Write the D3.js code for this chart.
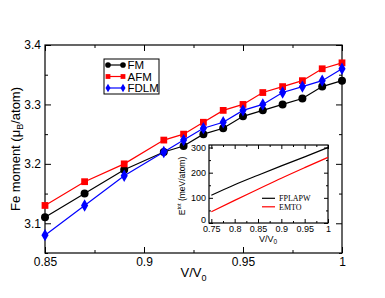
<!DOCTYPE html>
<html>
<head>
<meta charset="utf-8">
<script src="https://cdn.jsdelivr.net/npm/d3@7"></script>
<style>
  body { margin: 0; background: #fff; }
  svg { font-family: "Liberation Sans", Arial, sans-serif; }
</style>
</head>
<body>
<svg id="chart" width="385" height="298"></svg>
<script>
// main panel data
var volume = [0.85, 0.87, 0.89, 0.91, 0.92, 0.93, 0.94, 0.95, 0.96, 0.97, 0.98, 0.99, 1.0];
var fmMoment = [3.11, 3.15, 3.19, 3.22, 3.23, 3.25, 3.26, 3.28, 3.29, 3.30, 3.31, 3.33, 3.34];
var afmMoment = [3.13, 3.17, 3.20, 3.24, 3.25, 3.27, 3.29, 3.30, 3.32, 3.33, 3.34, 3.36, 3.37];
var fdlmMoment = [3.08, 3.13, 3.18, 3.22, 3.24, 3.26, 3.27, 3.29, 3.30, 3.32, 3.33, 3.34, 3.36];
var xTicks = [0.85, 0.9, 0.95, 1];
var xMinor = [0.875, 0.925, 0.975];
var yTicks = [3.1, 3.2, 3.3, 3.4];
var yMinor = [3.05, 3.15, 3.25, 3.35];

// inset data
var insetVolume = [0.75, 0.8, 0.85, 0.9, 0.95, 1.0];
var fplapwEnergy = [110, 152, 190, 227, 263, 300];
var emtoEnergy = [45, 90, 134, 178, 220, 261];
var insetXTicks = [0.75, 0.8, 0.85, 0.9, 0.95, 1];
var insetXMinor = [0.775, 0.825, 0.875, 0.925, 0.975];
var insetYTicks = [0, 100, 200, 300];
var insetYMinor = [50, 150, 250];

var svg = d3.select("#chart");

var x = d3.scaleLinear().domain([0.85, 1]).range([45, 342]);
var y = d3.scaleLinear().domain([3.05, 3.4]).range([253, 45]);

function fmt(d) { return d == 1 ? "1" : String(d); }

function addAxis(g, axis) {
  g.call(axis);
  g.select(".domain").remove();
  g.selectAll("line").attr("stroke", "#000").attr("stroke-width", 1);
}

// main axes, ticks pointing inward
addAxis(svg.append("g").attr("transform", "translate(0,253)").style("font-size", "12px"),
  d3.axisBottom(x).tickValues(xTicks).tickSize(-6).tickPadding(4).tickFormat(fmt));
addAxis(svg.append("g").attr("transform", "translate(0,253)"),
  d3.axisBottom(x).tickValues(xMinor).tickSize(-3).tickFormat(""));
addAxis(svg.append("g").attr("transform", "translate(0,45)"),
  d3.axisTop(x).tickValues(xTicks).tickSize(-6).tickFormat(""));
addAxis(svg.append("g").attr("transform", "translate(0,45)"),
  d3.axisTop(x).tickValues(xMinor).tickSize(-3).tickFormat(""));
addAxis(svg.append("g").attr("transform", "translate(45,0)").style("font-size", "12px"),
  d3.axisLeft(y).tickValues(yTicks).tickSize(-6).tickPadding(4).tickFormat(d3.format(".1f")));
addAxis(svg.append("g").attr("transform", "translate(45,0)"),
  d3.axisLeft(y).tickValues(yMinor).tickSize(-3).tickFormat(""));
addAxis(svg.append("g").attr("transform", "translate(342,0)"),
  d3.axisRight(y).tickValues(yTicks).tickSize(-6).tickFormat(""));
addAxis(svg.append("g").attr("transform", "translate(342,0)"),
  d3.axisRight(y).tickValues(yMinor).tickSize(-3).tickFormat(""));

svg.selectAll(".tick text").attr("fill", "#000").style("font-family", "Liberation Sans, Arial, sans-serif");

svg.append("rect")
  .attr("x", 45).attr("y", 45).attr("width", 297).attr("height", 208)
  .attr("fill", "none").attr("stroke", "#000").attr("stroke-width", 1.2);

// axis titles
var xl = svg.append("text").attr("x", 193.5).attr("y", 277)
  .attr("text-anchor", "middle").attr("font-size", "13px").text("V/V");
xl.append("tspan").attr("font-size", "9px").attr("dy", 4).text("0");

var yl = svg.append("text")
  .attr("transform", "translate(20,149) rotate(-90)")
  .attr("text-anchor", "middle").attr("font-size", "13px").text("Fe moment (\u03bc");
yl.append("tspan").attr("font-size", "9px").attr("dy", 3).text("B");
yl.append("tspan").attr("dy", -3).text("/atom)");

// series
var series = [
  { name: "FM", values: fmMoment, color: "#000000", shape: d3.symbolCircle, size: 50 },
  { name: "AFM", values: afmMoment, color: "#ff0000", shape: d3.symbolSquare, size: 46 },
  { name: "FDLM", values: fdlmMoment, color: "#0000ff", shape: d3.symbolDiamond, size: 44 }
];

var line = d3.line()
  .x(function(d) { return x(d[0]); })
  .y(function(d) { return y(d[1]); });

series.forEach(function(s) {
  var pts = volume.map(function(v, i) { return [v, s.values[i]]; });
  svg.append("path")
    .datum(pts)
    .attr("d", line)
    .attr("fill", "none")
    .attr("stroke", s.color)
    .attr("stroke-width", 1.2);
  svg.selectAll(".pt-" + s.name)
    .data(pts)
    .enter()
    .append("path")
    .attr("class", "pt-" + s.name)
    .attr("d", d3.symbol().type(s.shape).size(s.size))
    .attr("transform", function(d) { return "translate(" + x(d[0]) + "," + y(d[1]) + ")"; })
    .attr("fill", s.color);
});

// legend
var legend = svg.append("g");
legend.append("rect")
  .attr("x", 104).attr("y", 59).attr("width", 55).attr("height", 35)
  .attr("fill", "#fff").attr("stroke", "#000").attr("stroke-width", 1);

series.forEach(function(s, i) {
  var ly = 65 + i * 11.5;
  legend.append("line")
    .attr("x1", 108).attr("x2", 123).attr("y1", ly).attr("y2", ly)
    .attr("stroke", s.color).attr("stroke-width", 1.2);
  [108, 123].forEach(function(lx) {
    legend.append("path")
      .attr("d", d3.symbol().type(s.shape).size(s.size * 0.5))
      .attr("transform", "translate(" + lx + "," + ly + ")")
      .attr("fill", s.color);
  });
  legend.append("text")
    .attr("x", 127.5).attr("y", ly)
    .attr("dy", "0.36em")
    .attr("font-size", "11.5px")
    .text(s.name);
});

// inset
var ix = d3.scaleLinear().domain([0.745, 1]).range([209, 328]);
var iy = d3.scaleLinear().domain([0, 310]).range([223, 145]);

var inset = svg.append("g");
inset.append("rect")
  .attr("x", 209).attr("y", 145).attr("width", 119).attr("height", 78)
  .attr("fill", "#fff");

addAxis(inset.append("g").attr("transform", "translate(0,223)").style("font-size", "9px"),
  d3.axisBottom(ix).tickValues(insetXTicks).tickSize(-4).tickPadding(3).tickFormat(fmt));
addAxis(inset.append("g").attr("transform", "translate(0,223)"),
  d3.axisBottom(ix).tickValues(insetXMinor).tickSize(-2).tickFormat(""));
addAxis(inset.append("g").attr("transform", "translate(0,145)"),
  d3.axisTop(ix).tickValues(insetXTicks).tickSize(-4).tickFormat(""));
addAxis(inset.append("g").attr("transform", "translate(0,145)"),
  d3.axisTop(ix).tickValues(insetXMinor).tickSize(-2).tickFormat(""));
var iLeft = inset.append("g").attr("transform", "translate(209,0)").style("font-size", "9px");
addAxis(iLeft, d3.axisLeft(iy).tickValues(insetYTicks).tickSize(-4).tickPadding(3));
// lift the "0" label a little so it clears the x labels
iLeft.selectAll(".tick text").filter(function(d) { return d === 0; }).attr("dy", "-0.05em");
addAxis(inset.append("g").attr("transform", "translate(209,0)"),
  d3.axisLeft(iy).tickValues(insetYMinor).tickSize(-2).tickFormat(""));
addAxis(inset.append("g").attr("transform", "translate(328,0)"),
  d3.axisRight(iy).tickValues(insetYTicks).tickSize(-4).tickFormat(""));
addAxis(inset.append("g").attr("transform", "translate(328,0)"),
  d3.axisRight(iy).tickValues(insetYMinor).tickSize(-2).tickFormat(""));

inset.selectAll(".tick text").attr("fill", "#000").style("font-family", "Liberation Sans, Arial, sans-serif");

inset.append("rect")
  .attr("x", 209).attr("y", 145).attr("width", 119).attr("height", 78)
  .attr("fill", "none").attr("stroke", "#000").attr("stroke-width", 1.2);

var insetSeries = [
  { name: "FPLAPW", values: fplapwEnergy, color: "#000000" },
  { name: "EMTO", values: emtoEnergy, color: "#ff0000" }
];

var iline = d3.line()
  .curve(d3.curveMonotoneX)
  .x(function(d) { return ix(d[0]); })
  .y(function(d) { return iy(d[1]); });

insetSeries.forEach(function(s, i) {
  var pts = insetVolume.map(function(v, j) { return [v, s.values[j]]; });
  inset.append("path")
    .datum(pts)
    .attr("d", iline)
    .attr("fill", "none")
    .attr("stroke", s.color)
    .attr("stroke-width", 1.2);
  var ly = 198.3 + i * 8.5;
  inset.append("line")
    .attr("x1", 262).attr("x2", 275).attr("y1", ly).attr("y2", ly)
    .attr("stroke", s.color).attr("stroke-width", 1.2);
  inset.append("text")
    .attr("x", 279).attr("y", ly).attr("dy", "0.35em")
    .attr("font-size", "8px")
    .style("font-family", "Liberation Serif, Times New Roman, serif")
    .text(s.name);
});

var ixl = inset.append("text").attr("x", 268).attr("y", 241.5)
  .attr("text-anchor", "middle").attr("font-size", "9px").text("V/V");
ixl.append("tspan").attr("font-size", "6.5px").attr("dy", 2.5).text("0");

var iyl = inset.append("text")
  .attr("transform", "translate(185,186) rotate(-90)")
  .attr("text-anchor", "middle").attr("font-size", "8.5px").text("E");
iyl.append("tspan").attr("font-size", "5.5px").attr("dy", -4).text("tot");
iyl.append("tspan").attr("dy", 4).text(" (meV/atom)");
</script>
</body>
</html>
